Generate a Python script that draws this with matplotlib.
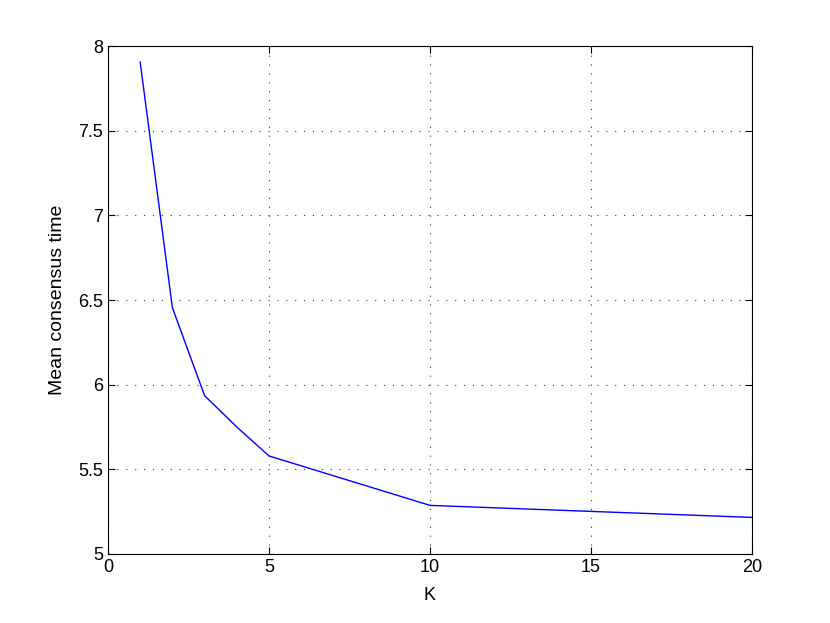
import matplotlib
matplotlib.use("Agg")
import matplotlib.pyplot as plt

K = [1, 2, 3, 4, 5, 10, 20]
mean_time = [7.905, 6.455, 5.935, 5.750, 5.579, 5.287, 5.216]
xticks = [0, 5, 10, 15, 20]
yticks = [5, 5.5, 6, 6.5, 7, 7.5, 8]

plt.rcParams['font.family'] = ['Liberation Sans', 'DejaVu Sans']
fig = plt.figure(figsize=(8.3, 6.23), dpi=100)
ax = fig.add_axes([0.1301, 0.1108, 0.7759, 0.8153])
ax.plot(K, mean_time, color='#0000ff', linewidth=1.0)
ax.set_xlim(0, 20)
ax.set_ylim(5, 8)
ax.set_xticks(xticks)
ax.set_xticklabels([str(v) for v in xticks])
ax.set_yticks(yticks)
ax.set_yticklabels([f"{v:g}" for v in yticks])
ax.grid(True, linestyle=(0, (1, 7)), color='#333333', linewidth=0.8)
ax.tick_params(direction='in', length=5, labelsize=13, top=True, right=True, width=0.8)
for s in ax.spines.values():
    s.set_linewidth(0.8)
ax.set_xlabel('K', fontsize=13, labelpad=8)
ax.set_ylabel('Mean consensus time', fontsize=14, labelpad=9)
fig.savefig('out.png', dpi=100)
